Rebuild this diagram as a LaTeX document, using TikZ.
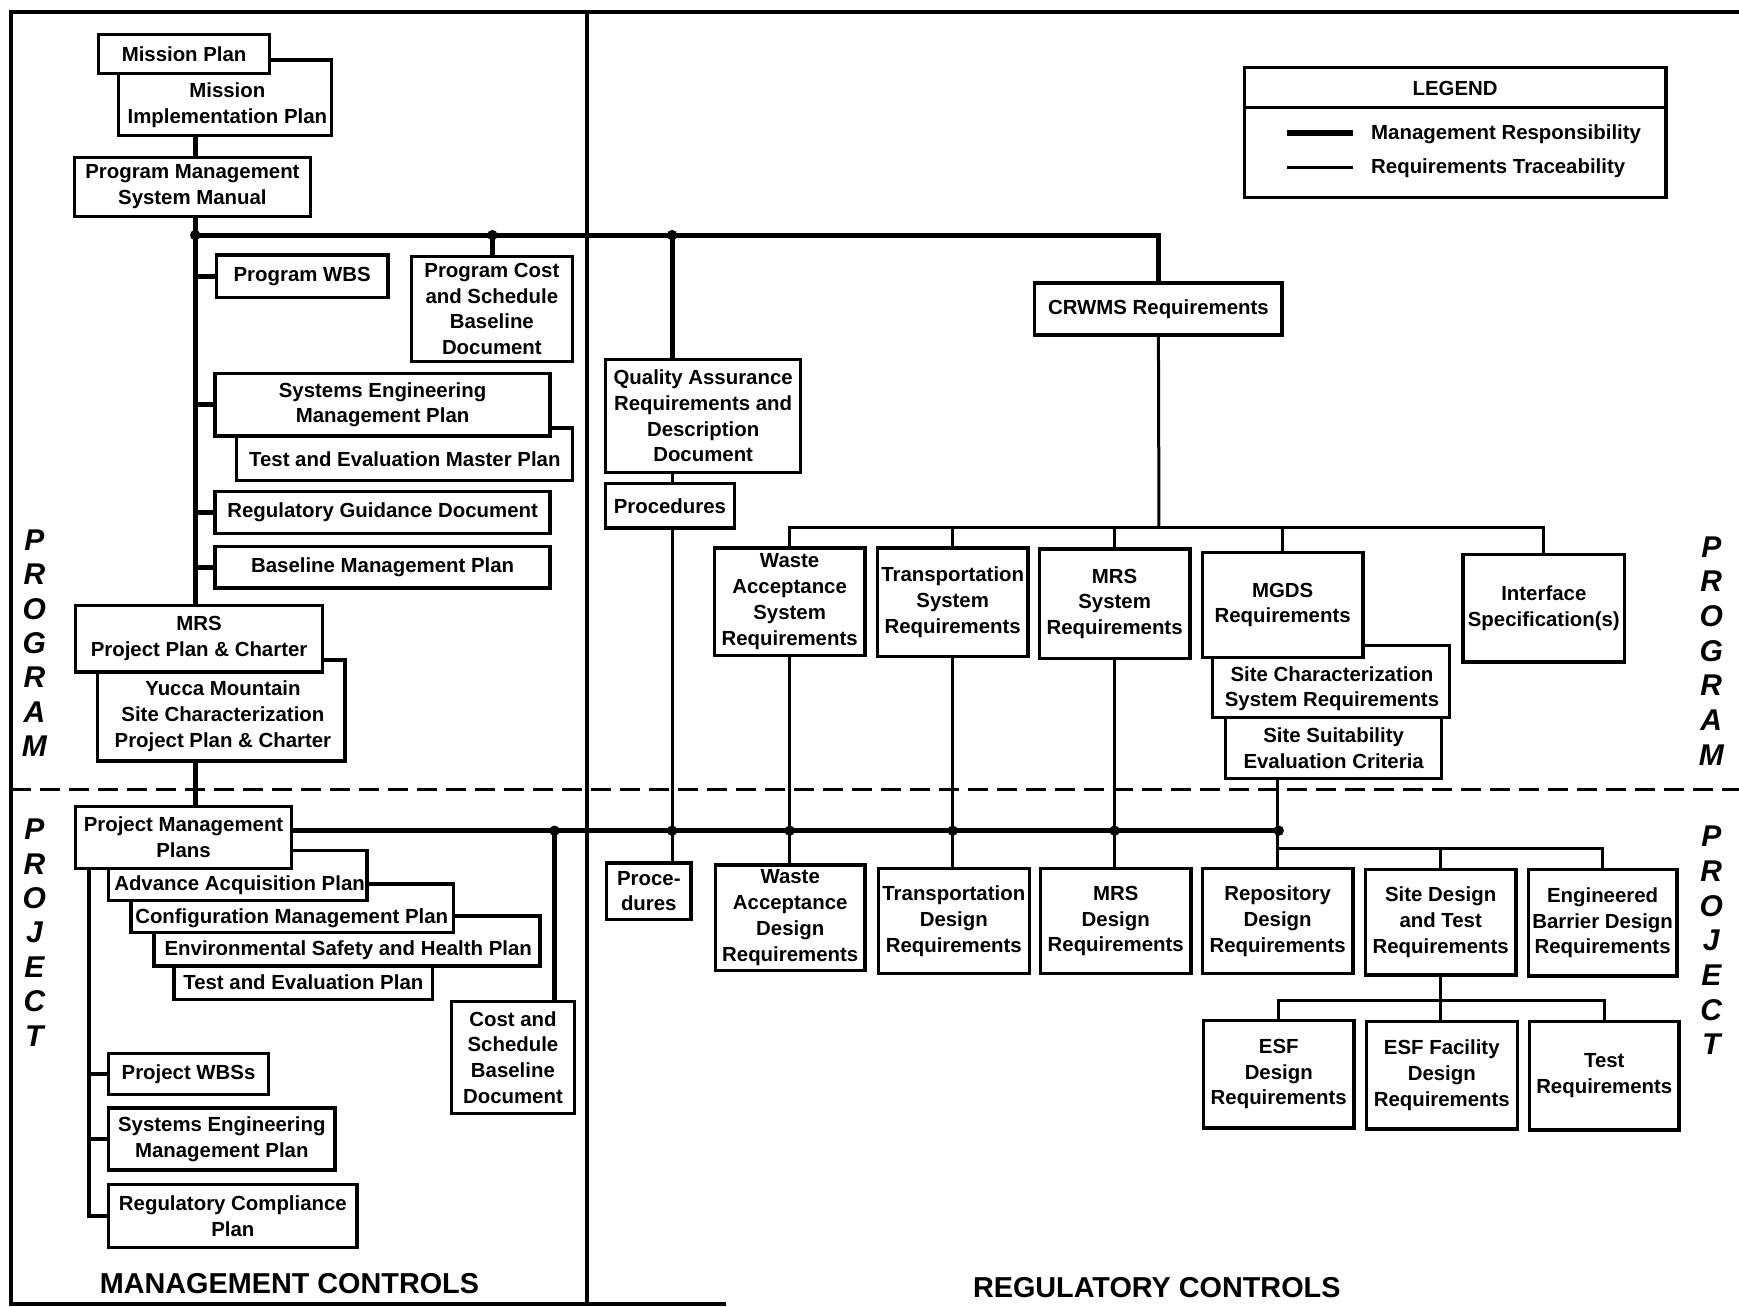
\documentclass[tikz,border=0pt]{standalone}
\usepackage{fontspec}
\setmainfont{Liberation Sans}
\usetikzlibrary{positioning}

\newcommand{\docfont}{\fontsize{10.2}{12.9}\selectfont\bfseries}
\newcommand{\pxu}{0.5545pt}

\tikzset{
  doc/.style={draw,line width=1.7pt,fill=white,inner sep=0pt,align=center,font=\docfont},
  wh/.style 2 args={minimum width={#1*\pxu},minimum height={#2*\pxu}},
  doctext/.style={inner sep=0pt,align=center,font=\docfont},
  mgmt/.style={line width=2.6pt},
  req/.style={line width=1.5pt},
  frame/.style={line width=2.2pt},
  side/.style={inner sep=0pt,font=\fontsize{15}{15}\selectfont\bfseries\itshape},
  title/.style={inner sep=0pt,font=\fontsize{14.4}{16}\selectfont\bfseries}
}

\begin{document}
\begin{tikzpicture}[x=0.5545pt,y=-0.5545pt]

  \useasboundingbox (0,0) rectangle (1568,1178);

  % ---------- frame ----------
  \draw[frame] (8,11) -- (1568,11);
  \draw[frame] (10,10) -- (10,1176) -- (655,1176);
  \draw[frame] (529,11) -- (529,1176);
  \draw[line width=1.7pt,dash pattern=on 10pt off 4.5pt] (10,712) -- (1568,712);

  % ---------- left: management controls, program ----------
  \node[doc,wh={192}{68}] (mip) at (203,88) {};
  \node[doctext] (mipT) at (205,95) {Mission\\Implementation Plan};
  \node[doc,wh={154}{35}] (mp) at (166,48.5) {Mission Plan};
  \node[doc,wh={213}{53}] (pmsm) at (173.5,168.5) {Program Management\\System Manual};

  \coordinate (jA) at (176,212);
  \coordinate (jB) at (444,212);
  \coordinate (jQ) at (606,212);

  \node[doc,wh={155}{38}] (pwbs) at (272.5,249) {Program WBS};
  \node[doc,wh={145}{95}] (pcsb) at (443.5,278.5) {Program Cost\\and Schedule\\Baseline\\Document};
  \node[doc,wh={303}{47}] (temp) at (364.5,409.5) {};
  \node[doctext] (tempT) at (365,414) {Test and Evaluation Master Plan};
  \node[doc,wh={302}{56}] (semp) at (345,365) {Systems Engineering\\Management Plan};
  \node[doc,wh={302}{38}] (rgd) at (345,462) {Regulatory Guidance Document};
  \node[doc,wh={302}{37}] (bmp) at (345,511.5) {Baseline Management Plan};
  \node[doc,wh={223}{91}] (ymsc) at (199.5,640.5) {};
  \node[doctext] (ymscT) at (201,646) {Yucca Mountain\\Site Characterization\\Project Plan \& Charter};
  \node[doc,wh={223}{60}] (mrsp) at (179.5,576) {MRS\\Project Plan \& Charter};

  % ---------- left: management controls, project ----------
  \node[doc,wh={233}{30}] (tep) at (273.5,886) {Test and Evaluation Plan};
  \node[doc,wh={348}{45}] (esh) at (313,848.5) {};
  \node[doctext] (eshT) at (314,857) {Environmental Safety and Health Plan};
  \node[doc,wh={291}{44}] (cmp) at (263.5,819) {};
  \node[doctext] (cmpT) at (263,828) {Configuration Management Plan};
  \node[doc,wh={233}{45}] (aap) at (214.5,789.5) {};
  \node[doctext] (aapT) at (216,798) {Advance Acquisition Plan};
  \node[doc,wh={195}{56}] (pmp) at (165.5,755) {Project Management\\Plans};

  \node[doc,wh={144}{37}] (pwbss) at (170,968.5) {Project WBSs};
  \node[doc,wh={204}{56}] (psemp) at (200,1027) {Systems Engineering\\Management Plan};
  \node[doc,wh={224}{57}] (rcp) at (210,1096.5) {Regulatory Compliance\\Plan};
  \node[doc,wh={111}{101}] (csbd) at (462.5,953.5) {Cost and\\Schedule\\Baseline\\Document};

  % ---------- right: regulatory controls, program ----------
  \node[doc,wh={176}{102}] (qard) at (634,375) {Quality Assurance\\Requirements and\\Description\\Document};
  \node[doc,wh={116}{40}] (proc) at (604,456) {Procedures};
  \node[doc,wh={223}{47}] (crwms) at (1044.5,278.5) {CRWMS Requirements};
  \node[doc,wh={136}{97}] (wasr) at (712,542.5) {Waste\\Acceptance\\System\\Requirements};
  \node[doc,wh={136}{98}] (tsr) at (859,543) {Transportation\\System\\Requirements};
  \node[doc,wh={136}{99}] (msr) at (1005,544.5) {MRS\\System\\Requirements};
  \node[doc,wh={195}{55}] (ssec) at (1202.5,674.5) {Site Suitability\\Evaluation Criteria};
  \node[doc,wh={214}{65}] (scsr) at (1200,614.5) {};
  \node[doctext] (scsrT) at (1201,621) {Site Characterization\\System Requirements};
  \node[doc,wh={145}{95}] (mgds) at (1156.5,545.5) {MGDS\\Requirements};
  \node[doc,wh={146}{97}] (ifs) at (1392,548.5) {Interface\\Specification(s)};

  % ---------- right: regulatory controls, project ----------
  \node[doc,wh={76}{51}] (procd) at (585,803.5) {Proce-\\dures};
  \node[doc,wh={135}{95}] (wadr) at (712.5,827.5) {Waste\\Acceptance\\Design\\Requirements};
  \node[doc,wh={136}{95}] (tdr) at (860,830.5) {Transportation\\Design\\Requirements};
  \node[doc,wh={136}{95}] (mdr) at (1006,830.5) {MRS\\Design\\Requirements};
  \node[doc,wh={136}{95}] (rdr) at (1152,830.5) {Repository\\Design\\Requirements};
  \node[doc,wh={136}{95}] (sdtr) at (1299,831.5) {Site Design\\and Test\\Requirements};
  \node[doc,wh={134}{96}] (ebdr) at (1445,832) {Engineered\\Barrier Design\\Requirements};
  \node[doc,wh={136}{97}] (esfd) at (1153,968.5) {ESF\\Design\\Requirements};
  \node[doc,wh={136}{97}] (esffd) at (1300,969.5) {ESF Facility\\Design\\Requirements};
  \node[doc,wh={135}{98}] (testr) at (1446.5,970) {Test\\Requirements};

  % ---------- management responsibility ----------
  \draw[mgmt] (mip.south -| jA) -- (pmsm.north -| jA);
  \draw[mgmt] (pmsm.south -| jA) -- (mrsp.north -| jA);
  \draw[mgmt] (ymsc.south -| jA) -- (pmp.north -| jA);
  \draw[mgmt] (jA) -- (crwms.north |- jA) -- (crwms.north);
  \draw[mgmt] (jB) -- (pcsb.north -| jB);
  \draw[mgmt] (jQ) -- (qard.north -| jQ);
  \foreach \n in {pwbs,semp,rgd,bmp}
    \draw[mgmt] (jA |- \n.west) -- (\n.west);

  \coordinate (kA) at (500,749);
  \coordinate (kF) at (1153,749);
  \coordinate (kB) at (jQ |- kA);
  \coordinate (kC) at (wasr.south |- kA);
  \coordinate (kD) at (tsr.south |- kA);
  \coordinate (kE) at (msr.south |- kA);
  \draw[mgmt] (pmp.east |- kA) -- (kF);
  \draw[mgmt] (kA) -- (csbd.north -| kA);

  \coordinate (pL) at (80,783);
  \draw[line width=2pt] (pmp.south -| pL) |- (rcp.west);
  \foreach \n in {pwbss,psemp}
    \draw[line width=2pt] (pL |- \n.west) -- (\n.west);

  % ---------- requirements traceability ----------
  \draw[req] (qard.south -| jQ) -- (proc.north -| jQ);
  \draw[req] (proc.south -| jQ) -- (procd.north -| jQ);

  \coordinate (rbar) at (1045,476);
  \draw[req] (crwms.south) -- (rbar);
  \draw[req] (wasr.north) -- (wasr.north |- rbar) -- (ifs.north |- rbar) -- (ifs.north);
  \foreach \n in {tsr,msr,mgds}
    \draw[req] (\n.north |- rbar) -- (\n.north);

  \draw[req] (wasr.south) -- (wasr.south |- wadr.north);
  \draw[req] (tsr.south) -- (tsr.south |- tdr.north);
  \draw[req] (msr.south) -- (msr.south |- mdr.north);
  \draw[req] (ssec.south -| rdr) -- (rdr.north);

  \coordinate (pbar) at (1153,765);
  \draw[req] (rdr.north |- pbar) -- (ebdr.north |- pbar) -- (ebdr.north);
  \draw[req] (sdtr.north |- pbar) -- (sdtr.north);

  \coordinate (sbar) at (1299,902);
  \draw[req] (sdtr.south) -- (sdtr.south |- esffd.north);
  \draw[req] (esfd.north) -- (esfd.north |- sbar) -- (testr.north |- sbar) -- (testr.north);

  % junction dots
  \foreach \p in {jA,jB,jQ,kA,kB,kC,kD,kE,kF}
    \fill (\p) circle (2.6pt);

  % ---------- legend ----------
  \node[doc,wh={380}{117}] (legend) at (1312,119.5) {};
  \draw[line width=1.7pt] (1122,97) -- (1502,97);
  \node[doctext] (lgT) at (1312,80) {LEGEND};
  \node[doctext,anchor=west] (lgM) at (1236,121) {Management Responsibility};
  \node[doctext,anchor=west] (lgR) at (1236,152) {Requirements Traceability};
  \draw[mgmt] (1160,120) -- (1220,120);
  \draw[req] (1160,151) -- (1220,151);

  % ---------- side letters and titles ----------
  \foreach \ch [count=\i] in {P,R,O,G,R,A,M} {
    \node[side] (lprog\i) at (31,{487+31*(\i-1)}) {\ch};
    \node[side] (rprog\i) at (1543,{493+31.3*(\i-1)}) {\ch};
  }
  \foreach \ch [count=\i] in {P,R,O,J,E,C,T} {
    \node[side] (lproj\i) at (31,{748+31*(\i-1)}) {\ch};
    \node[side] (rproj\i) at (1543,{754+31.3*(\i-1)}) {\ch};
  }

  \node[title] (mctl) at (261,1157) {MANAGEMENT CONTROLS};
  \node[title] (rctl) at (1043,1161) {REGULATORY CONTROLS};

\end{tikzpicture}
\end{document}
